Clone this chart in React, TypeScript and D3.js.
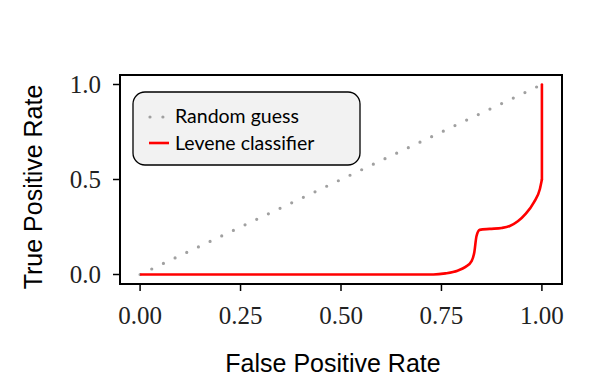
import React from 'react';
import * as d3 from 'd3';

const W = 598;
const H = 380;

// ROC curve (false positive rate, true positive rate)
const fpr = [0, 0.73, 0.76, 0.79, 0.81, 0.825, 0.832, 0.837, 0.845, 0.87, 0.9, 0.92, 0.94, 0.96, 0.98, 0.995, 1.0, 1.0];
const tpr = [0, 0, 0.006, 0.02, 0.04, 0.07, 0.12, 0.2, 0.235, 0.24, 0.245, 0.255, 0.28, 0.32, 0.38, 0.45, 0.5, 1.0];

const guessX = [0, 1];
const guessY = [0, 1];

const xTicks = [0, 0.25, 0.5, 0.75, 1.0];
const yTicks = [0, 0.5, 1.0];

const legendLabels = ['Random guess', 'Levene classifier'];

const FRAME = { left: 120, right: 562, top: 75, bottom: 284 };
const SERIF = '"Liberation Serif", "DejaVu Serif", serif';
const SANS = '"Liberation Sans", Arial, sans-serif';
const LEGEND_FONT = 'Lato, "Open Sans", sans-serif';

const App = () => {
  const x = d3.scaleLinear().domain([-0.05, 1.05]).range([FRAME.left, FRAME.right]);
  const y = d3.scaleLinear().domain([-0.05, 1.05]).range([FRAME.bottom, FRAME.top]);

  const roc = fpr.map((f, i) => [f, tpr[i]] as [number, number]);
  const guess = guessX.map((g, i) => [g, guessY[i]] as [number, number]);

  // smooth part (x strictly increasing), then the final vertical jump
  const smooth = d3.line<[number, number]>()
    .x(d => x(d[0]))
    .y(d => y(d[1]))
    .curve(d3.curveMonotoneX);
  const straight = d3.line<[number, number]>()
    .x(d => x(d[0]))
    .y(d => y(d[1]));

  const fmtX = d3.format('.2f');
  const fmtY = d3.format('.1f');

  return (
    <svg width={W} height={H} style={{ position: 'absolute', left: 0, top: 0, background: '#fff' }}>
      <rect x={0} y={0} width={W} height={H} fill='#fff' />

      {/* random guess diagonal */}
      <path d={straight(guess) || ''} fill='none' stroke='#a0a0a0' strokeWidth={3.2}
        strokeLinecap='round' strokeDasharray='0 12.9' />

      {/* ROC */}
      <path d={smooth(roc.slice(0, -1)) || ''} fill='none' stroke='#ff0000' strokeWidth={2.6} strokeLinejoin='round' />
      <path d={straight(roc.slice(-2)) || ''} fill='none' stroke='#ff0000' strokeWidth={2.6} strokeLinecap='round' />

      {/* frame */}
      <rect x={FRAME.left} y={FRAME.top} width={FRAME.right - FRAME.left} height={FRAME.bottom - FRAME.top}
        fill='none' stroke='#000' strokeWidth={2} />

      {/* x ticks */}
      {xTicks.map(t => (
        <g key={`x${t}`} transform={`translate(${x(t)},${FRAME.bottom})`}>
          <line y1={0} y2={7} stroke='#000' strokeWidth={1.5} />
          <text y={40} textAnchor='middle' fontFamily={SERIF} fontSize={25} fill='#222'>{fmtX(t)}</text>
        </g>
      ))}

      {/* y ticks */}
      {yTicks.map(t => (
        <g key={`y${t}`} transform={`translate(${FRAME.left},${y(t)})`}>
          <line x1={0} x2={-7} stroke='#000' strokeWidth={1.5} />
          <text x={-19} dy='0.35em' textAnchor='end' fontFamily={SERIF} fontSize={25} fill='#222'>{fmtY(t)}</text>
        </g>
      ))}

      {/* axis labels */}
      <text x={333} y={372} textAnchor='middle' fontFamily={SANS} fontSize={25} fill='#000'>False Positive Rate</text>
      <text transform='translate(42,187) rotate(-90)' textAnchor='middle' fontFamily={SANS} fontSize={25} fill='#000'>True Positive Rate</text>

      {/* legend */}
      <g>
        <rect x={133} y={92} width={227} height={73} rx={12} ry={12} fill='#f2f2f2' stroke='#000' strokeWidth={1.3} />
        <line x1={150} x2={170} y1={117} y2={117} stroke='#a0a0a0' strokeWidth={3.2}
          strokeLinecap='round' strokeDasharray='0 12.9' />
        <line x1={149} x2={169} y1={143} y2={143} stroke='#ff0000' strokeWidth={2.6} />
        <text x={175} y={123} fontFamily={LEGEND_FONT} fontSize={19.5} fill='#000'>{legendLabels[0]}</text>
        <text x={175} y={150} fontFamily={LEGEND_FONT} fontSize={19.5} fill='#000'>{legendLabels[1]}</text>
      </g>
    </svg>
  );
};

export default App;
